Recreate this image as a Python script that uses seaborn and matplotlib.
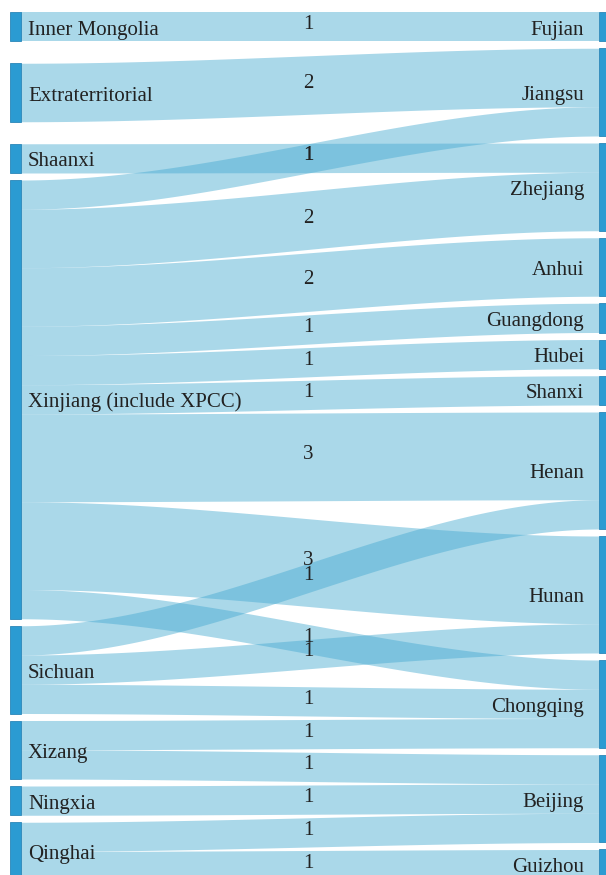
import numpy as np
import matplotlib.pyplot as plt
import seaborn as sns

# nodes (top to bottom)
left_nodes = ['Inner Mongolia', 'Extraterritorial', 'Shaanxi', 'Xinjiang (include XPCC)',
              'Sichuan', 'Xizang', 'Ningxia', 'Qinghai']
right_nodes = ['Fujian', 'Jiangsu', 'Zhejiang', 'Anhui', 'Guangdong', 'Hubei', 'Shanxi',
               'Henan', 'Hunan', 'Chongqing', 'Beijing', 'Guizhou']

# links: source, target, value
sources = ['Inner Mongolia', 'Extraterritorial', 'Shaanxi',
           'Xinjiang (include XPCC)', 'Xinjiang (include XPCC)', 'Xinjiang (include XPCC)',
           'Xinjiang (include XPCC)', 'Xinjiang (include XPCC)', 'Xinjiang (include XPCC)',
           'Xinjiang (include XPCC)', 'Xinjiang (include XPCC)', 'Xinjiang (include XPCC)',
           'Sichuan', 'Sichuan', 'Sichuan', 'Xizang', 'Xizang', 'Ningxia', 'Qinghai', 'Qinghai']
targets = ['Fujian', 'Jiangsu', 'Zhejiang',
           'Jiangsu', 'Zhejiang', 'Anhui', 'Guangdong', 'Hubei', 'Shanxi', 'Henan', 'Hunan', 'Chongqing',
           'Henan', 'Hunan', 'Chongqing', 'Chongqing', 'Beijing', 'Beijing', 'Beijing', 'Guizhou']
values = [1, 2, 1, 1, 2, 2, 1, 1, 1, 3, 3, 1, 1, 1, 1, 1, 1, 1, 1, 1]

# layout (in value units / pixels)
PX = 29.25                      # pixels per unit
GAP = 7 / PX
left_gaps = [22 / PX, 22 / PX] + [GAP] * 5
right_gaps = [GAP] * 11
TOP = 12 / PX
XL0, XL1 = 10, 21               # left bar
XR0, XR1 = 599, 610             # right bar

link_color = (70 / 255, 170 / 255, 209 / 255)
bar_color = '#2b9bd2'

sns.set_style("white")
plt.rcParams['font.family'] = ['Liberation Serif', 'DejaVu Serif']


def stack_nodes(names, gaps):
    pos = {}
    y = TOP
    for i, n in enumerate(names):
        tot = max(sum(v for s, v in zip(sources, values) if s == n),
                  sum(v for t, v in zip(targets, values) if t == n))
        pos[n] = [y, y + tot]
        y += tot
        if i < len(gaps):
            y += gaps[i]
    return pos


lpos = stack_nodes(left_nodes, left_gaps)
rpos = stack_nodes(right_nodes, right_gaps)

# link slots: at sources ordered by target, at targets ordered by source
idx = list(range(len(values)))
src_slot, tgt_slot = {}, {}
for n in left_nodes:
    y = lpos[n][0]
    for i in sorted([i for i in idx if sources[i] == n], key=lambda i: right_nodes.index(targets[i])):
        src_slot[i] = (y, y + values[i])
        y += values[i]
for n in right_nodes:
    y = rpos[n][0]
    for i in sorted([i for i in idx if targets[i] == n], key=lambda i: left_nodes.index(sources[i])):
        tgt_slot[i] = (y, y + values[i])
        y += values[i]

fig = plt.figure(figsize=(6.06, 8.75), dpi=100)
ax = fig.add_axes([0, 0, 1, 1])
ax.set_xlim(0, 606)
ax.set_ylim(TOP + 863 / PX, TOP - 12 / PX)
ax.axis('off')

xs = np.linspace(XL1, XR0, 200)
t = (xs - XL1) / (XR0 - XL1)
s = 3 * t ** 2 - 2 * t ** 3
for i in idx:
    (a0, a1), (b0, b1) = src_slot[i], tgt_slot[i]
    top = a0 + (b0 - a0) * s
    bot = a1 + (b1 - a1) * s
    ax.fill_between(xs, top, bot, color=link_color, alpha=0.46, linewidth=0)
    ymid = ((a0 + a1) / 2 + (b0 + b1) / 2) / 2
    ax.text(308, ymid + 2.5 / PX, str(values[i]), ha='center', va='baseline',
            fontsize=15, color='#222222')

for n in left_nodes:
    y0, y1 = lpos[n]
    ax.add_patch(plt.Rectangle((XL0, y0), XL1 - XL0, y1 - y0, facecolor=bar_color,
                               edgecolor='#2a86b8', linewidth=0.6))
    ax.text(XL1 + 7, (y0 + y1) / 2 + 8 / PX, n, ha='left', va='baseline',
            fontsize=15, color='#222222')
for n in right_nodes:
    y0, y1 = rpos[n]
    ax.add_patch(plt.Rectangle((XR0, y0), XR1 - XR0, y1 - y0, facecolor=bar_color,
                               edgecolor='#2a86b8', linewidth=0.6))
    ax.text(XR0 - 15, (y0 + y1) / 2 + 8 / PX, n, ha='right', va='baseline',
            fontsize=15, color='#222222')

fig.savefig('out.png', dpi=100)
